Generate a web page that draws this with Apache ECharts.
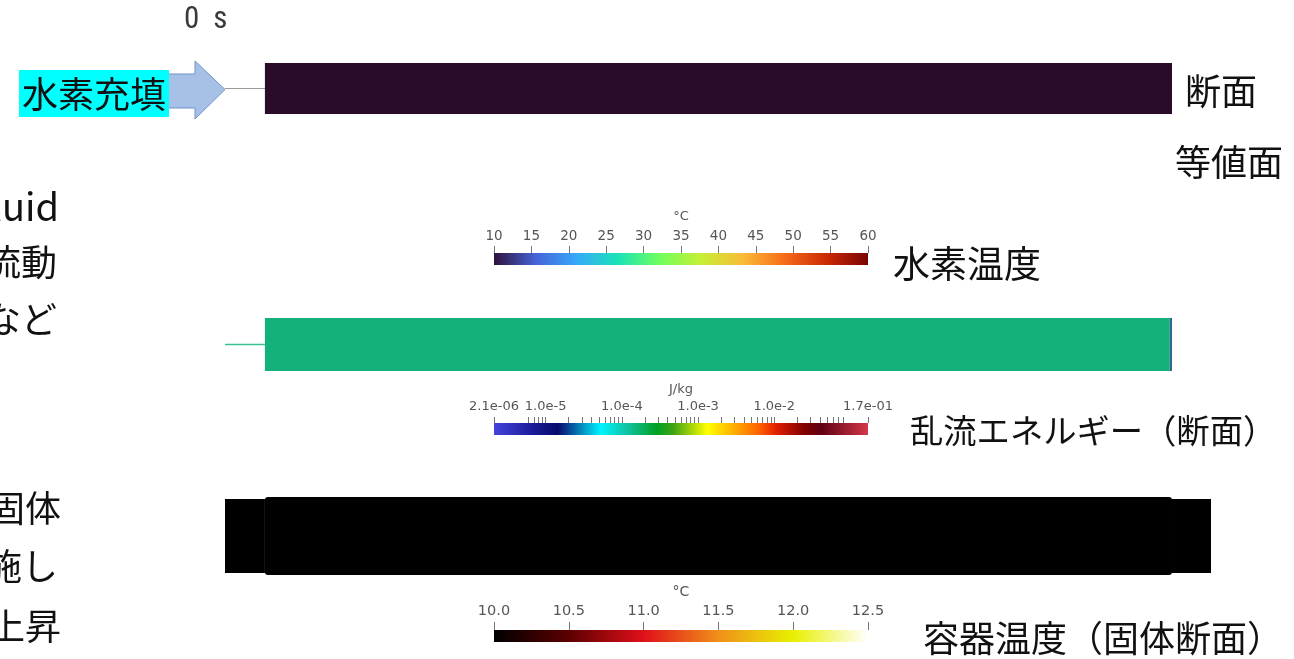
<!DOCTYPE html>
<html><head><meta charset="utf-8">
<script src="https://cdn.jsdelivr.net/npm/echarts@6/dist/echarts.min.js"></script>
<style>html,body{margin:0;padding:0;background:#fff;overflow:hidden}#c{width:1294px;height:659px}</style>
</head><body><div id="c"></div>
<script>
// ---------------- data ----------------
const timeLabel = '0\u2002s';
// geometry: tube length units (main tube 0..100), radius units
const inletPipe = [-4.4, 0];
const fluidSectionA = [[0, 100, 1, '#2a0b29']];
const fluidSectionB = [[0, 99.75, 1, '#14b27a'], [99.75, 100, 1, '#2c6a8c']];
const vesselSection = [[-4.4, 0, 1.42, '#000000'], [100, 104.3, 1.42, '#000000'], [0, 100, 1.5, '#000000']];

// hydrogen temperature colour bar (°C)
const tempRange = [10, 60];
const tempInterval = 5;
const tempColors = ['#30123b', '#4662d7', '#36aaf9', '#1ae4b6', '#72fe5e', '#c7ef34', '#faba39', '#f66b19', '#ca2a04', '#7a0403'];

// turbulent kinetic energy colour bar (J/kg, log)
const tkeRange = [2.1e-6, 0.17];
const tkeLabelValues = [2.1e-6, 1e-5, 1e-4, 1e-3, 1e-2, 0.17];
const tkeLabels = ['2.1e-06', '1.0e-5', '1.0e-4', '1.0e-3', '1.0e-2', '1.7e-01'];
const tkeTickValues = [2.1e-6, 6e-6, 7e-6, 8e-6, 9e-6, 1e-5,
  2e-5, 3e-5, 4e-5, 5e-5, 6e-5, 7e-5, 8e-5, 9e-5, 1e-4,
  2e-4, 3e-4, 4e-4, 5e-4, 6e-4, 7e-4, 8e-4, 9e-4, 1e-3,
  2e-3, 3e-3, 4e-3, 5e-3, 6e-3, 7e-3, 8e-3, 9e-3, 1e-2,
  2e-2, 3e-2, 4e-2, 5e-2, 6e-2, 7e-2, 8e-2, 0.17];
const tkeStops = [[0, '#4444dc'], [0.1, '#1c1c9c'], [0.17, '#08086c'], [0.285, '#00f4ff'], [0.355, '#10c4a4'],
  [0.435, '#00a024'], [0.48, '#40a414'], [0.57, '#ffff00'], [0.64, '#ffb000'], [0.71, '#ff6000'],
  [0.755, '#e02000'], [0.83, '#800000'], [0.875, '#600012'], [1, '#d23848']];

// vessel temperature colour bar (°C)
const wallRange = [10.0, 12.5];
const wallInterval = 0.5;
const wallStops = [[0, '#000000'], [0.2, '#5c0000'], [0.4, '#e0101a'], [0.6, '#f0901a'], [0.8, '#e8f000'], [1, '#ffffff']];

// texts
const leftTextsTop = ['Fluid', '流動', 'など'];
const leftTextsBottom = ['固体', '施し', '上昇'];
const fillLabel = '水素充填';
const panelTitles = ['断面', '等値面', '水素温度', '乱流エネルギー（断面）', '容器温度（固体断面）'];

// ---------------- chart ----------------
const chart = echarts.init(document.getElementById('c'));
const JP = "'Noto Sans CJK JP', sans-serif";
const NUM = "'DejaVu Sans', sans-serif";
const lg10 = Math.log10;

function sectionRender(params, api) {
  const p0 = api.coord([api.value(0), api.value(2)]);
  const p1 = api.coord([api.value(1), -api.value(2)]);
  return {
    type: 'rect',
    shape: { x: p0[0], y: p0[1], width: p1[0] - p0[0], height: p1[1] - p0[1], r: params.seriesName === 'vessel' && api.value(2) > 1.45 ? 3 : 0 },
    style: { fill: api.value(3) }
  };
}
function lineRender(color, w) {
  return function (params, api) {
    const a = api.coord([api.value(0), 0]);
    const b = api.coord([api.value(1), 0]);
    return { type: 'line', shape: { x1: a[0], y1: a[1], x2: b[0], y2: b[1] }, style: { stroke: color, lineWidth: w } };
  };
}
function barRender(stops) {
  return function (params, api) {
    const a = api.coord([api.value(0), 0]);
    const b = api.coord([api.value(1), 1]);
    return {
      type: 'rect',
      shape: { x: a[0], y: b[1], width: b[0] - a[0], height: a[1] - b[1] },
      style: { fill: new echarts.graphic.LinearGradient(0, 0, 1, 0, stops.map(s => ({ offset: s[0], color: s[1] }))) }
    };
  };
}
const evenStops = tempColors.map((c, i) => [i / (tempColors.length - 1), c]);

const geoX = (gi) => ({ gridIndex: gi, type: 'value', min: -4.4, max: 104.3, show: false });
const geoY = (gi) => ({ gridIndex: gi, type: 'value', min: -1.6, max: 1.6, show: false });
const barY = (gi) => ({ gridIndex: gi, type: 'value', min: 0, max: 1, show: false });
const tickStyle = { show: true, inside: false, length: 7, lineStyle: { color: '#777', width: 1 } };
const lblStyle = { color: '#555', fontFamily: NUM, fontSize: 13.5 };
const hiddenLine = { show: false, onZero: false };

const option = {
  backgroundColor: '#ffffff',
  animation: false,
  grid: [
    { left: 225, width: 986, top: 47.7, height: 81.6 },
    { left: 225, width: 986, top: 302.1, height: 84.8 },
    { left: 225, width: 986, top: 494.4, height: 83.2 },
    { left: 494, width: 374, top: 253, height: 12 },
    { left: 494, width: 374, top: 423, height: 12 },
    { left: 494, width: 374, top: 630, height: 12 }
  ],
  xAxis: [
    geoX(0), geoX(1), geoX(2),
    {
      gridIndex: 3, type: 'value', position: 'top', z: 10, min: tempRange[0], max: tempRange[1], interval: tempInterval,
      axisLine: hiddenLine, splitLine: { show: false },
      axisTick: tickStyle,
      axisLabel: Object.assign({ margin: 10 }, lblStyle),
      name: '°C', nameLocation: 'middle', nameGap: 30,
      nameTextStyle: { color: '#555', fontFamily: NUM, fontSize: 13 }
    },
    {
      gridIndex: 4, type: 'value', position: 'top', z: 10, min: lg10(tkeRange[0]), max: lg10(tkeRange[1]),
      axisLine: hiddenLine, splitLine: { show: false },
      axisTick: Object.assign({}, tickStyle, { length: 6, customValues: tkeTickValues.map(lg10) }),
      axisLabel: Object.assign({ margin: 10, customValues: tkeLabelValues.map(lg10),
        formatter: function (v) {
          let best = 0, bd = 1e9;
          tkeLabelValues.forEach((t, i) => { const dd = Math.abs(lg10(t) - v); if (dd < bd) { bd = dd; best = i; } });
          return tkeLabels[best];
        } }, lblStyle, { fontSize: 13 }),
      name: 'J/kg', nameLocation: 'middle', nameGap: 27,
      nameTextStyle: { color: '#555', fontFamily: NUM, fontSize: 13 }
    },
    {
      gridIndex: 5, type: 'value', position: 'top', z: 10, min: wallRange[0], max: wallRange[1], interval: wallInterval,
      axisLine: hiddenLine, splitLine: { show: false },
      axisTick: Object.assign({}, tickStyle, { length: 8 }),
      axisLabel: Object.assign({ margin: 11, formatter: v => v.toFixed(1) }, lblStyle, { fontSize: 14.5 }),
      name: '°C', nameLocation: 'middle', nameGap: 31,
      nameTextStyle: { color: '#555', fontFamily: NUM, fontSize: 14 }
    }
  ],
  yAxis: [geoY(0), geoY(1), geoY(2), barY(3), barY(4), barY(5)],
  series: [
    { type: 'custom', name: 'inletA', z: 1, xAxisIndex: 0, yAxisIndex: 0, data: [inletPipe], renderItem: lineRender('#9a9a9a', 1), silent: true },
    { type: 'custom', name: 'fluidA', z: 1, xAxisIndex: 0, yAxisIndex: 0, data: fluidSectionA, renderItem: sectionRender, silent: true },
    { type: 'custom', name: 'inletB', z: 1, xAxisIndex: 1, yAxisIndex: 1, data: [inletPipe], renderItem: lineRender('#3cbf98', 1.5), silent: true },
    { type: 'custom', name: 'fluidB', z: 1, xAxisIndex: 1, yAxisIndex: 1, data: fluidSectionB, renderItem: sectionRender, silent: true },
    { type: 'custom', name: 'vessel', z: 1, xAxisIndex: 2, yAxisIndex: 2, data: vesselSection, renderItem: sectionRender, silent: true },
    { type: 'custom', z: 1, xAxisIndex: 3, yAxisIndex: 3, data: [tempRange], renderItem: barRender(evenStops), silent: true },
    { type: 'custom', z: 1, xAxisIndex: 4, yAxisIndex: 4, data: [[lg10(tkeRange[0]), lg10(tkeRange[1])]], renderItem: barRender(tkeStops), silent: true },
    { type: 'custom', z: 1, xAxisIndex: 5, yAxisIndex: 5, data: [wallRange], renderItem: barRender(wallStops), silent: true }
  ],
  graphic: [
    { type: 'text', left: 184, top: 5, style: { text: timeLabel, fontFamily: "'Liberation Sans Narrow', 'Roboto Condensed', Roboto, sans-serif", fontSize: 31, fill: '#3a3a3a' } },
    { type: 'polygon', shape: { points: [[100, 74], [195, 74], [195, 61], [225, 89.5], [195, 119], [195, 108], [100, 108]] },
      style: { fill: '#a6c0e6', stroke: '#6f93cd', lineWidth: 1 } },
    { type: 'rect', shape: { x: 19, y: 70, width: 150, height: 47 }, style: { fill: '#00ffff' } },
    { type: 'text', x: 94, y: 94, style: { text: fillLabel, fontFamily: JP, fontSize: 36, fill: '#111', align: 'center', verticalAlign: 'middle' } },
    { type: 'text', x: 1185, y: 91, style: { text: panelTitles[0], fontFamily: JP, fontSize: 36, fill: '#111', verticalAlign: 'middle' } },
    { type: 'text', x: 1175, y: 162, style: { text: panelTitles[1], fontFamily: JP, fontSize: 36, fill: '#111', verticalAlign: 'middle' } },
    { type: 'text', x: 893, y: 264, style: { text: panelTitles[2], fontFamily: JP, fontSize: 37, fill: '#111', verticalAlign: 'middle' } },
    { type: 'text', x: 910, y: 430, style: { text: panelTitles[3], fontFamily: JP, fontSize: 33.3, fill: '#111', verticalAlign: 'middle' } },
    { type: 'text', x: 923, y: 638, style: { text: panelTitles[4], fontFamily: JP, fontSize: 36, fill: '#111', verticalAlign: 'middle' } },
    { type: 'text', x: 59, y: 207, style: { text: leftTextsTop[0], fontFamily: JP, fontSize: 38, fill: '#111', align: 'right', verticalAlign: 'middle' } },
    { type: 'text', x: 57, y: 262, style: { text: leftTextsTop[1], fontFamily: JP, fontSize: 36, fill: '#111', align: 'right', verticalAlign: 'middle' } },
    { type: 'text', x: 57, y: 319, style: { text: leftTextsTop[2], fontFamily: JP, fontSize: 36, fill: '#111', align: 'right', verticalAlign: 'middle' } },
    { type: 'text', x: 61, y: 508, style: { text: leftTextsBottom[0], fontFamily: JP, fontSize: 36, fill: '#111', align: 'right', verticalAlign: 'middle' } },
    { type: 'text', x: 58, y: 566, style: { text: leftTextsBottom[1], fontFamily: JP, fontSize: 36, fill: '#111', align: 'right', verticalAlign: 'middle' } },
    { type: 'text', x: 61, y: 626, style: { text: leftTextsBottom[2], fontFamily: JP, fontSize: 36, fill: '#111', align: 'right', verticalAlign: 'middle' } }
  ]
};
chart.setOption(option);
</script>
</body></html>
